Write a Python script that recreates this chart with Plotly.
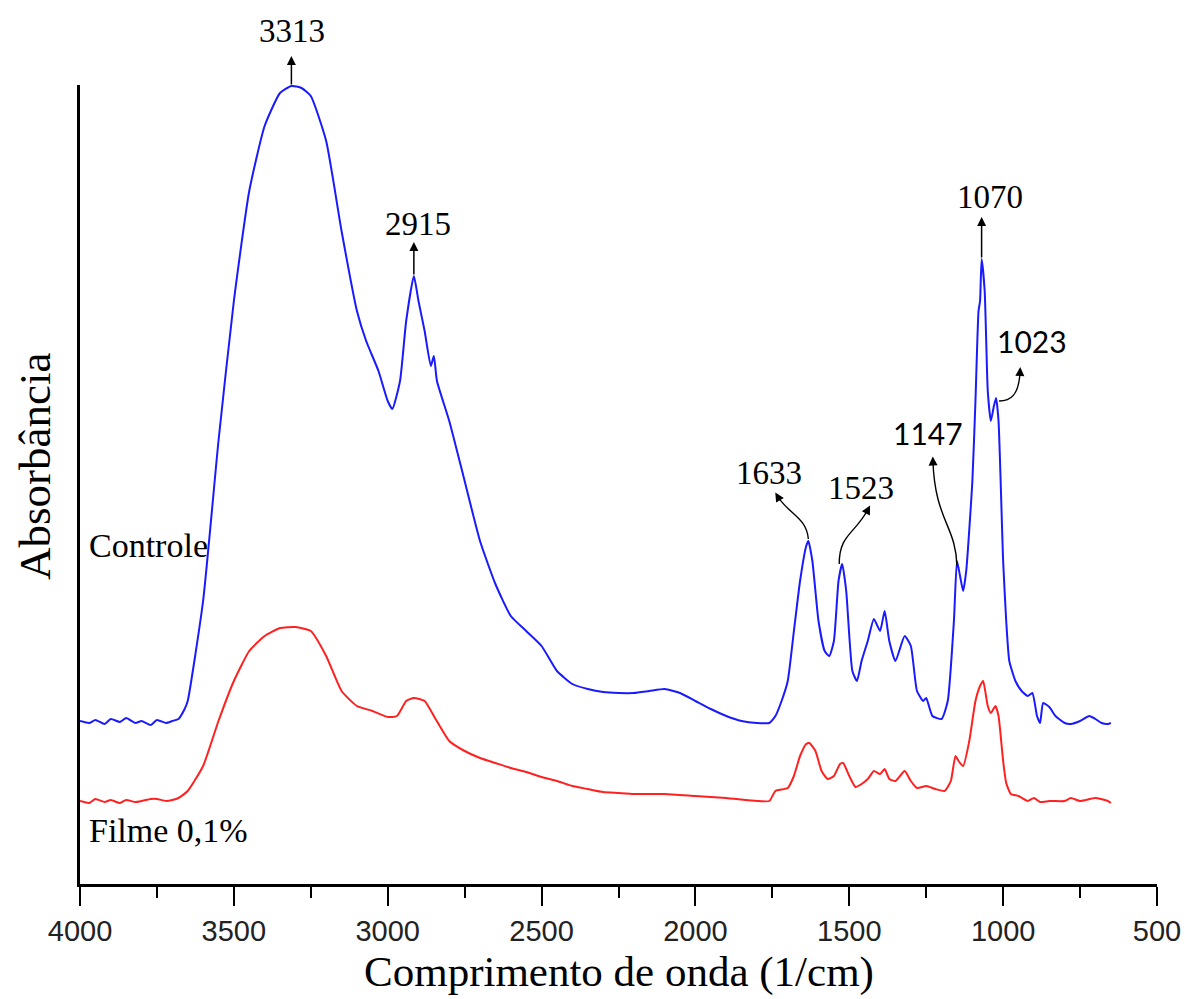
import plotly.graph_objects as go

# ---------------- data ----------------
wn_controle = [4000, 3970, 3950, 3920, 3900, 3870, 3850, 3820, 3800, 3770, 3750, 3720, 3700, 3680, 3660, 3650,
               3600, 3550, 3500, 3450, 3400, 3350, 3313, 3280, 3250, 3200, 3150, 3100, 3070, 3030, 3000,
               2985, 2960, 2940, 2915, 2900, 2880, 2860, 2850, 2840, 2800, 2750, 2700, 2650, 2600, 2550,
               2500, 2450, 2400, 2350, 2300, 2250, 2200, 2150, 2100, 2050, 2000, 1950, 1900, 1850, 1800,
               1760, 1740, 1720, 1700, 1680, 1660, 1640, 1633, 1620, 1600, 1580, 1565, 1550, 1535, 1523,
               1510, 1490, 1475, 1460, 1440, 1420, 1400, 1385, 1370, 1350, 1320, 1300, 1280, 1260, 1250,
               1230, 1200, 1180, 1160, 1150, 1140, 1130, 1120, 1100, 1090, 1080, 1075, 1070, 1060, 1050,
               1040, 1030, 1023, 1015, 1000, 990, 980, 960, 940, 920, 905, 890, 880, 870, 850, 830, 800,
               780, 750, 720, 700, 680, 660, 650]
abs_controle = [163, 161, 164, 160, 165, 162, 166, 161, 163, 159, 164, 161, 163, 165, 175, 183,
                283, 443, 583, 693, 758, 791, 798, 796, 788, 743, 653, 573, 543, 513, 483,
                475, 503, 563, 608, 583, 553, 518, 528, 503, 463, 403, 343, 300, 268, 253,
                238, 213, 200, 195, 192, 191, 191, 193, 195, 191, 183, 175, 168, 163, 161,
                161, 168, 183, 203, 253, 303, 338, 343, 323, 263, 233, 228, 243, 303, 320,
                293, 213, 203, 223, 243, 265, 253, 273, 243, 223, 248, 238, 193, 183, 186,
                168, 165, 183, 263, 323, 308, 293, 313, 403, 483, 573, 583, 625, 593, 493,
                463, 478, 486, 463, 323, 263, 223, 203, 193, 188, 191, 168, 161, 181, 177, 168, 161,
                160, 163, 168, 165, 161, 160, 161]

wn_filme = [4000, 3970, 3950, 3920, 3900, 3870, 3850, 3820, 3800, 3770, 3750, 3720, 3700, 3680, 3650,
            3600, 3550, 3500, 3450, 3400, 3350, 3300, 3250, 3200, 3150, 3100, 3050, 3000, 2970, 2940,
            2915, 2880, 2850, 2800, 2750, 2700, 2650, 2600, 2550, 2500, 2450, 2400, 2350, 2300, 2250,
            2200, 2100, 2000, 1900, 1800, 1760, 1740, 1700, 1680, 1660, 1640, 1630, 1610, 1590, 1570,
            1550, 1530, 1520, 1500, 1480, 1460, 1440, 1420, 1400, 1385, 1370, 1350, 1320, 1300, 1280,
            1250, 1220, 1190, 1170, 1155, 1145, 1130, 1110, 1090, 1075, 1065, 1050, 1040, 1025, 1015,
            1000, 990, 975, 950, 920, 900, 880, 850, 800, 780, 750, 700, 660, 650]
abs_filme = [83, 81, 85, 82, 84, 81, 84, 82, 83, 85, 85, 83, 84, 86, 93,
             118, 163, 203, 233, 248, 256, 257, 253, 228, 193, 178, 173, 167, 168, 183,
             186, 183, 168, 143, 133, 126, 121, 116, 112, 107, 103, 98, 95, 92, 91,
             90, 90, 88, 86, 83, 83, 93, 96, 108, 128, 140, 141, 133, 113, 105,
             108, 120, 121, 108, 97, 100, 105, 113, 110, 115, 105, 103, 113, 103, 96,
             98, 95, 93, 103, 128, 123, 118, 143, 183, 198, 203, 178, 171, 178, 168,
             123, 101, 90, 88, 83, 86, 82, 83, 83, 86, 83, 86, 83, 81]

peak_labels = ["3313", "2915", "1633", "1523", "1147", "1070", "1023"]
peak_wn = [3313, 2915, 1633, 1523, 1147, 1070, 1023]
x_ticks = [4000, 3500, 3000, 2500, 2000, 1500, 1000, 500]
minor_ticks = [3750, 3250, 2750, 2250, 1750, 1250, 750]
series_names = ["Controle", "Filme 0,1%"]

# ---------------- geometry helpers ----------------
X_LEFT, X_RIGHT = 4000, 500
PLOT_L, PLOT_R, PLOT_T, PLOT_B = 80, 1157, 85, 884   # screen pixels
XS = (PLOT_R - PLOT_L) / (X_LEFT - X_RIGHT)   # px per wavenumber
Y_MAX = PLOT_B - PLOT_T                        # 1 unit = 1 px
PW = PLOT_R - PLOT_L


def value_at(wn, xs, ys):
    for i in range(len(xs) - 1):
        if xs[i] >= wn >= xs[i + 1]:
            t = (xs[i] - wn) / (xs[i] - xs[i + 1])
            return ys[i] + t * (ys[i + 1] - ys[i])
    return ys[-1]


def paper(wn, val, dx=0, dy=0):
    """paper coords of data point (wn, val) offset by (dx, dy) screen pixels (dy down)"""
    px = (X_LEFT - wn) * XS + dx
    py = val - dy
    return px / PW, py / Y_MAX


serif = "Liberation Serif, Times New Roman, serif"
sans = "Liberation Sans, Arial, sans-serif"
calibri_like = "Lato, Carlito, Calibri, sans-serif"

fig = go.Figure()
fig.add_trace(go.Scatter(x=wn_controle, y=abs_controle, mode="lines", name=series_names[0],
                         line=dict(color="#1a1aff", width=2, shape="spline", smoothing=0.5)))
fig.add_trace(go.Scatter(x=wn_filme, y=abs_filme, mode="lines", name=series_names[1],
                         line=dict(color="#ff2020", width=2, shape="spline", smoothing=0.5)))

annotations = []
shapes = []

# straight arrows (pixel lengths) & label offsets relative to arrow head
straight = {"3313": (30, (1, -25)), "2915": (34, (4, -18)), "1070": (42, (8, -20))}
# curved arrows: bezier offsets relative to peak, label offset relative to head
curved = {
    "1633": ((0, -2), (-2, -24), (-20, -27), (-31, -45), (-6, -20)),
    "1523": ((-3, 0), (-3, -30), (13, -30), (26, -55), (-9, -17)),
    "1147": ((-1, 0), (-2, -40), (-23, -45), (-25, -105), (-5, -24)),
    "1023": ((3, 3), (14, 3), (23, -2), (24, -27), (12, -26)),
}
LABEL_FONT = dict(family=serif, size=33, color="black")
SANS_LABEL_FONT = dict(family=calibri_like, size=30, color="black")
sans_labels = {"1147", "1023"}

for lab, wn in zip(peak_labels, peak_wn):
    v = value_at(wn, wn_controle, abs_controle)
    if lab in straight:
        length, (tx, ty) = straight[lab]
        hx, hy = paper(wn, v, 0, -length)
        annotations.append(dict(x=hx, y=hy, xref="paper", yref="paper", ax=0, ay=length, text="",
                                showarrow=True, arrowhead=2, arrowsize=1.2, arrowwidth=1.5,
                                arrowcolor="black", standoff=0, startstandoff=0))
        lx, ly = paper(wn, v, tx, -length + ty)
    else:
        s, c1, c2, e, (tx, ty) = curved[lab]
        pts = [paper(wn, v, *p) for p in (s, c1, c2, e)]
        path = "M {},{} C {},{} {},{} {},{}".format(*[c for p in pts for c in p])
        shapes.append(dict(type="path", xref="paper", yref="paper", path=path,
                           line=dict(color="black", width=1.4)))
        dx = (e[0] - c2[0]); dy = (e[1] - c2[1])
        n = (dx * dx + dy * dy) ** 0.5
        hx_px, hy_px = e[0] + dx / n * 4, e[1] + dy / n * 4
        hx, hy = paper(wn, v, hx_px, hy_px)
        annotations.append(dict(x=hx, y=hy, xref="paper", yref="paper", ax=-dx / n * 10, ay=-dy / n * 10,
                                text="", showarrow=True, arrowhead=2, arrowsize=1.2, arrowwidth=1.5,
                                arrowcolor="black", standoff=0, startstandoff=0))
        lx, ly = paper(wn, v, hx_px + tx, hy_px + ty)
    annotations.append(dict(x=lx, y=ly, xref="paper", yref="paper", text=lab, showarrow=False,
                            xanchor="center", yanchor="middle",
                            font=SANS_LABEL_FONT if lab in sans_labels else LABEL_FONT))

# series labels
SER_FONT = dict(family=serif, size=34, color="black")
annotations.append(dict(x=7 / PW, y=(PLOT_B - 545) / Y_MAX, xref="paper", yref="paper",
                        text=series_names[0], showarrow=False, xanchor="left", yanchor="middle",
                        font=SER_FONT))
annotations.append(dict(x=7 / PW, y=(PLOT_B - 830) / Y_MAX, xref="paper", yref="paper",
                        text=series_names[1], showarrow=False, xanchor="left", yanchor="middle",
                        font=SER_FONT))

# axis titles
annotations.append(dict(x=(619 - PLOT_L) / PW, y=(PLOT_B - 972) / Y_MAX, xref="paper", yref="paper",
                        text="Comprimento de onda (1/cm)", showarrow=False,
                        xanchor="center", yanchor="middle",
                        font=dict(family=serif, size=43, color="black")))
annotations.append(dict(x=(35 - PLOT_L) / PW, y=(PLOT_B - 467) / Y_MAX,
                        xref="paper", yref="paper", text="Absorbância", textangle=-90,
                        showarrow=False, xanchor="center", yanchor="middle",
                        font=dict(family=serif, size=45, color="black")))

fig.update_layout(
    width=1185, height=999, autosize=False,
    margin=dict(l=PLOT_L, r=1185 - PLOT_R, t=PLOT_T, b=999 - PLOT_B, autoexpand=False),
    paper_bgcolor="white", plot_bgcolor="white",
    showlegend=False,
    annotations=annotations, shapes=shapes,
    xaxis=dict(range=[X_LEFT, X_RIGHT], tickvals=x_ticks, ticks="outside", ticklen=19,
               tickwidth=2.4, tickcolor="black", showline=True, linewidth=2.8, linecolor="black",
               showgrid=False, zeroline=False, automargin=False,
               tickfont=dict(family=sans, size=29, color="#222"),
               minor=dict(tickvals=minor_ticks, ticks="outside", ticklen=11, tickwidth=2.4,
                          tickcolor="black", showgrid=False)),
    yaxis=dict(range=[0, Y_MAX], showline=True, linewidth=2.8, linecolor="black",
               showticklabels=False, ticks="", showgrid=False, zeroline=False, automargin=False),
)

fig.write_html("out.html",
               config={"displayModeBar": False, "responsive": False},
               post_script="document.body.style.margin='0';"
                           "document.documentElement.style.overflow='hidden';")
